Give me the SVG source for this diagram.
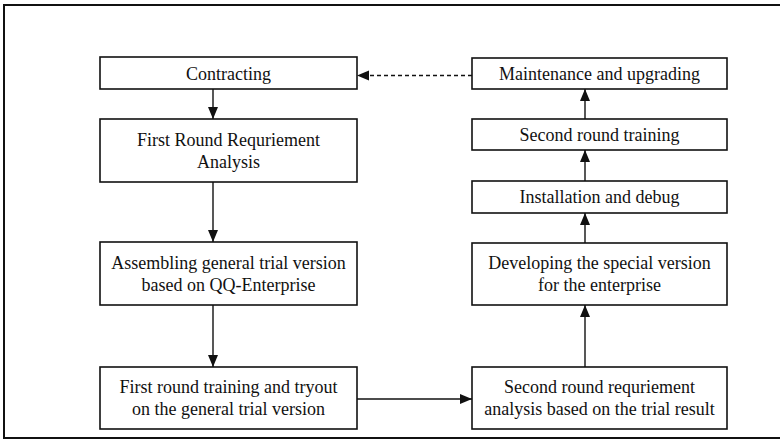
<svg xmlns="http://www.w3.org/2000/svg" width="780" height="441" viewBox="0 0 780 441">
<style>
.box{fill:#fff;stroke:#111;stroke-width:1.6}
.t{font-family:"Liberation Serif","Times New Roman",serif;font-size:18px;fill:#111;text-anchor:middle}
.c{stroke:#111;stroke-width:1.4;fill:none}
.d{stroke:#111;stroke-width:1.4;fill:none;stroke-dasharray:4 3}
</style>
<defs>
<marker id="ah" markerUnits="userSpaceOnUse" markerWidth="12" markerHeight="12" viewBox="0 0 12 10" refX="12" refY="5" orient="auto">
<path d="M0,0 L12,5 L0,10 Z" fill="#111"/>
</marker>
</defs>
<rect x="0" y="0" width="780" height="441" fill="#fff"/>
<path d="M784,5 L4,5 L4,438 L784,438" fill="none" stroke="#111" stroke-width="2"/>
<g id="contracting"><rect class="box" x="100" y="57" width="257" height="32"/><text class="t" x="228.5" y="80">Contracting</text></g>
<g id="first-req"><rect class="box" x="100" y="119" width="257" height="63"/><text class="t" x="228.5" y="146">First Round Requriement</text><text class="t" x="228.5" y="168">Analysis</text></g>
<g id="assembling"><rect class="box" x="100" y="242" width="257" height="63"/><text class="t" x="228.5" y="269">Assembling general trial version</text><text class="t" x="228.5" y="291">based on QQ-Enterprise</text></g>
<g id="first-training"><rect class="box" x="100" y="367" width="257" height="62"/><text class="t" x="228.5" y="393">First round training and tryout</text><text class="t" x="228.5" y="415">on the general trial version</text></g>
<g id="maintenance"><rect class="box" x="472" y="58" width="255" height="31"/><text class="t" x="599.5" y="80">Maintenance and upgrading</text></g>
<g id="second-training"><rect class="box" x="472" y="119" width="255" height="31"/><text class="t" x="599.5" y="141">Second round training</text></g>
<g id="installation"><rect class="box" x="472" y="181" width="255" height="32"/><text class="t" x="599.5" y="203">Installation and debug</text></g>
<g id="developing"><rect class="box" x="472" y="243" width="255" height="62"/><text class="t" x="599.5" y="269">Developing the special version</text><text class="t" x="599.5" y="291">for the enterprise</text></g>
<g id="second-req"><rect class="box" x="472" y="367" width="255" height="62"/><text class="t" x="599.5" y="393">Second round requriement</text><text class="t" x="599.5" y="415">analysis based on the trial result</text></g>
<g id="connectors">
<line class="c" x1="213" y1="89" x2="213" y2="119" marker-end="url(#ah)"/>
<line class="c" x1="213" y1="182" x2="213" y2="242" marker-end="url(#ah)"/>
<line class="c" x1="213" y1="305" x2="213" y2="367" marker-end="url(#ah)"/>
<line class="c" x1="357" y1="399" x2="472" y2="399" marker-end="url(#ah)"/>
<line class="c" x1="585" y1="367" x2="585" y2="305" marker-end="url(#ah)"/>
<line class="c" x1="585" y1="243" x2="585" y2="213" marker-end="url(#ah)"/>
<line class="c" x1="585" y1="181" x2="585" y2="150" marker-end="url(#ah)"/>
<line class="c" x1="585" y1="119" x2="585" y2="89" marker-end="url(#ah)"/>
<line class="d" x1="472" y1="75.5" x2="370" y2="75.5"/>
<path d="M369,70.5 L357,75.5 L369,80.5 Z" fill="#111"/>
</g>
</svg>
